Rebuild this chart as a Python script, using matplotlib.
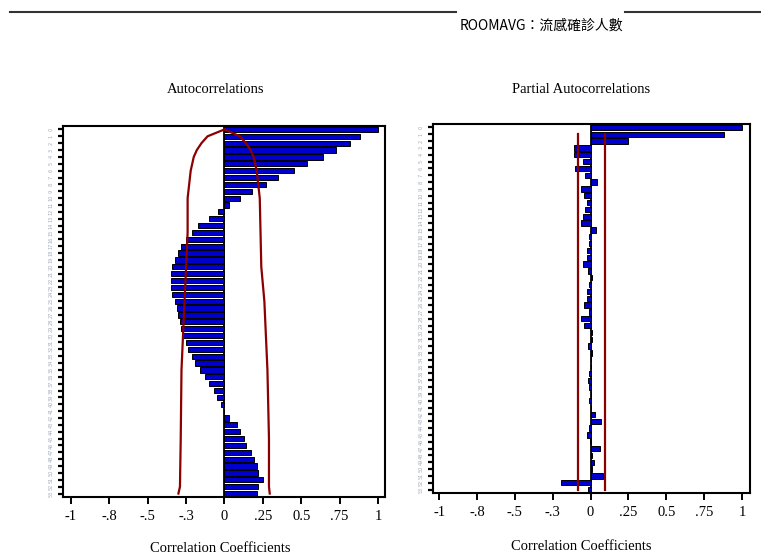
import matplotlib
matplotlib.use("Agg")
from matplotlib import pyplot as plt
from matplotlib.lines import Line2D

plt.rcParams["font.family"] = ["Liberation Serif", "DejaVu Serif"]
plt.rcParams["font.size"] = 10

lags = list(range(54))

acf = [1.00, 0.88, 0.82, 0.73, 0.64, 0.54, 0.45, 0.35, 0.27, 0.18,
       0.10, 0.03, -0.04, -0.10, -0.17, -0.21, -0.25, -0.28, -0.30, -0.32,
       -0.34, -0.35, -0.35, -0.35, -0.34, -0.32, -0.31, -0.30, -0.29, -0.28,
       -0.27, -0.25, -0.24, -0.21, -0.19, -0.16, -0.13, -0.10, -0.07, -0.05,
       -0.02, 0.00, 0.03, 0.08, 0.10, 0.13, 0.14, 0.17, 0.19, 0.21,
       0.22, 0.25, 0.22, 0.21]

pacf = [1.00, 0.88, 0.25, -0.11, -0.11, -0.05, -0.10, -0.035, 0.04, -0.06,
        -0.04, -0.025, -0.035, -0.05, -0.06, 0.035, -0.01, -0.01, -0.025, -0.025,
        -0.05, -0.02, 0.01, -0.01, -0.025, -0.025, -0.04, -0.01, -0.06, -0.04,
        0.01, 0.01, -0.015, 0.01, 0.00, 0.005, -0.01, -0.02, -0.01, 0.005,
        -0.01, 0.005, 0.03, 0.07, -0.01, -0.025, -0.005, 0.06, 0.01, 0.025,
        0.01, 0.085, -0.195, -0.015]

# two standard error band for the autocorrelations
band_lags = [0, 1, 2, 3, 4, 5, 6, 8, 10, 15, 20, 25, 30, 35, 45, 52, 53]
band_lo = [0.0, -0.11, -0.15, -0.18, -0.20, -0.21, -0.22, -0.23, -0.24, -0.24,
           -0.25, -0.26, -0.27, -0.28, -0.285, -0.29, -0.30]
band_hi = [0.0, 0.10, 0.14, 0.17, 0.19, 0.20, 0.21, 0.22, 0.23, 0.235,
           0.24, 0.26, 0.27, 0.28, 0.29, 0.29, 0.295]

pacf_band = (-0.08, 0.095)

xticks = [-1, -0.75, -0.5, -0.25, 0, 0.25, 0.5, 0.75, 1]
xticklabels = ["-1", "-.8", "-.5", "-.3", "0", ".25", "0.5", ".75", "1"]

bar_blue = "#0000cc"
band_red = "#8b0000"

fig = plt.figure(figsize=(7.61, 5.55), dpi=100)
ax1 = fig.add_axes([0.0828, 0.1045, 0.4231, 0.6685])
ax2 = fig.add_axes([0.569, 0.1117, 0.4166, 0.6649])


def style(ax, xlim):
    ax.set_xlim(*xlim)
    ax.set_ylim(53.5, -0.5)
    ax.set_xticks(xticks)
    ax.set_xticklabels(xticklabels, fontsize=10.5)
    ax.set_yticks(lags)
    ax.set_yticklabels([str(l) for l in lags], fontsize=3.6, color="#a3abbd",
                       rotation=90, va="center", family="DejaVu Sans")
    ax.tick_params(axis="x", direction="out", length=5, width=1.4, pad=4)
    ax.tick_params(axis="y", direction="out", length=3.5, width=1.6, pad=3)
    for s in ax.spines.values():
        s.set_linewidth(1.5)
    ax.axvline(0, color="black", lw=1.3, zorder=1)


ax1.barh(lags, acf, height=0.76, color=bar_blue, edgecolor="black", linewidth=0.7, zorder=2)
ax1.plot(band_lo, band_lags, color=band_red, lw=1.6, zorder=3)
ax1.plot(band_hi, band_lags, color=band_red, lw=1.6, zorder=3)
style(ax1, (-1.052, 1.046))

ax2.barh(lags, pacf, height=0.76, color=bar_blue, edgecolor="black", linewidth=0.7, zorder=2)
for b in pacf_band:
    ax2.plot([b, b], [1, 53], color=band_red, lw=1.6, zorder=3)
style(ax2, (-1.04, 1.053))

fig.text(0.283, 0.838, "Autocorrelations", ha="center", va="center", fontsize=10.5)
fig.text(0.764, 0.838, "Partial Autocorrelations", ha="center", va="center", fontsize=10.5)
fig.text(0.290, 1 - 548 / 555, "Correlation Coefficients", ha="center", va="center", fontsize=10.5)
fig.text(0.764, 1 - 546 / 555, "Correlation Coefficients", ha="center", va="center", fontsize=10.5)

# header rule with the series name
y_rule = 1 - 11.5 / 555
fig.add_artist(Line2D([10 / 761, 456 / 761], [y_rule, y_rule], color="#333333", lw=1.5))
fig.add_artist(Line2D([625 / 761, 1.0], [y_rule, y_rule], color="#333333", lw=1.5))
fig.text(460 / 761, 1 - 26 / 555, "ROOMAVG：流感確診人數", ha="left", va="center",
         fontsize=10, family=["Noto Sans CJK TC", "DejaVu Sans"])

fig.savefig("out.png", dpi=100)
